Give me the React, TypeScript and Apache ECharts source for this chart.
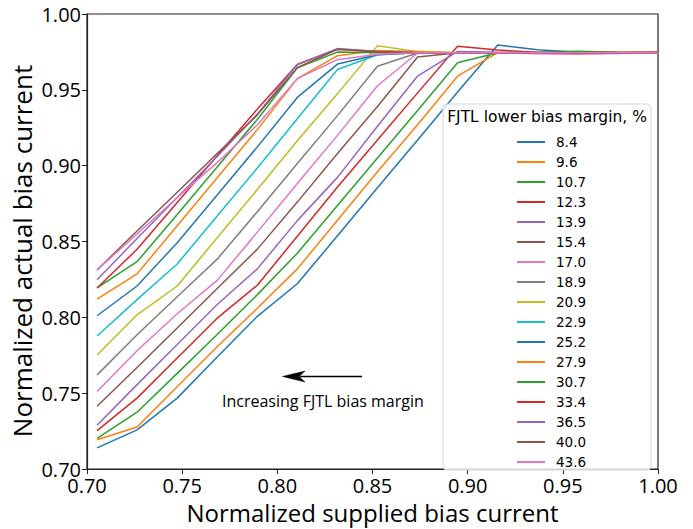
import React, { useEffect, useRef } from "react";
import * as echarts from "echarts";

// Normalized supplied bias current (x samples)
const xValues = [0.7053, 0.7263, 0.7474, 0.7684, 0.7895, 0.8105, 0.8316, 0.8526, 0.8737, 0.8947, 0.9158, 0.9368, 0.9579, 0.9789, 1.0];

// FJTL lower bias margin, %
const margins = ["8.4", "9.6", "10.7", "12.3", "13.9", "15.4", "17.0", "18.9", "20.9", "22.9", "25.2", "27.9", "30.7", "33.4", "36.5", "40.0", "43.6"];

const m084 = [0.714, 0.7259, 0.7468, 0.7739, 0.8007, 0.8222, 0.8538, 0.8854, 0.917, 0.9486, 0.9796, 0.9765, 0.9748, 0.9745, 0.9745];
const m096 = [0.7194, 0.7278, 0.7543, 0.7807, 0.806, 0.832, 0.864, 0.896, 0.927, 0.959, 0.9745, 0.9745, 0.9748, 0.9745, 0.9745];
const m107 = [0.7202, 0.7375, 0.7631, 0.7887, 0.815, 0.8423, 0.8737, 0.9051, 0.9364, 0.9678, 0.9745, 0.9748, 0.9755, 0.9748, 0.9745];
const m123 = [0.7254, 0.7468, 0.7732, 0.7995, 0.8212, 0.8535, 0.886, 0.917, 0.948, 0.9787, 0.9762, 0.9748, 0.9745, 0.9748, 0.975];
const m139 = [0.7289, 0.7557, 0.7821, 0.8085, 0.832, 0.8638, 0.8923, 0.926, 0.9591, 0.9753, 0.9748, 0.9745, 0.9745, 0.9745, 0.9745];
const m154 = [0.7414, 0.767, 0.793, 0.819, 0.845, 0.876, 0.908, 0.939, 0.9717, 0.9745, 0.9745, 0.9745, 0.9745, 0.9745, 0.9745];
const m170 = [0.7511, 0.778, 0.8024, 0.8244, 0.8562, 0.8882, 0.92, 0.9527, 0.9743, 0.9745, 0.9745, 0.9738, 0.9735, 0.974, 0.9745];
const m189 = [0.7621, 0.7886, 0.8136, 0.8384, 0.8697, 0.9014, 0.933, 0.9656, 0.9743, 0.9745, 0.9745, 0.9745, 0.9745, 0.9745, 0.9745];
const m209 = [0.7752, 0.8017, 0.8207, 0.8525, 0.8843, 0.9164, 0.9475, 0.979, 0.9752, 0.9745, 0.9745, 0.9745, 0.9745, 0.9745, 0.9745];
const m229 = [0.7877, 0.8117, 0.8352, 0.8669, 0.8985, 0.931, 0.9634, 0.9731, 0.9745, 0.9745, 0.9745, 0.9745, 0.9745, 0.9745, 0.9745];
const m252 = [0.8011, 0.8207, 0.8492, 0.8807, 0.9124, 0.945, 0.967, 0.9731, 0.9745, 0.9745, 0.9745, 0.9745, 0.9745, 0.9745, 0.9745];
const m279 = [0.8121, 0.8287, 0.8604, 0.8921, 0.9238, 0.9574, 0.9725, 0.976, 0.9752, 0.9745, 0.9745, 0.9745, 0.9745, 0.9745, 0.9745];
const m307 = [0.8194, 0.8367, 0.8679, 0.8992, 0.9305, 0.9646, 0.9749, 0.9745, 0.9745, 0.9745, 0.9745, 0.9745, 0.9745, 0.9745, 0.9745];
const m334 = [0.8194, 0.8449, 0.8757, 0.9065, 0.9373, 0.9667, 0.9768, 0.975, 0.9745, 0.9745, 0.9745, 0.9745, 0.9745, 0.9745, 0.9745];
const m365 = [0.8248, 0.852, 0.879, 0.906, 0.934, 0.9667, 0.9772, 0.9752, 0.9745, 0.9745, 0.9745, 0.9745, 0.9745, 0.9745, 0.9745];
const m400 = [0.8313, 0.857, 0.8825, 0.908, 0.9335, 0.9646, 0.9768, 0.9752, 0.9745, 0.9745, 0.9745, 0.9745, 0.9745, 0.9745, 0.9745];
const m436 = [0.8313, 0.855, 0.879, 0.902, 0.927, 0.9574, 0.9699, 0.9735, 0.9745, 0.9745, 0.9745, 0.9745, 0.9745, 0.9745, 0.9745];

const seriesValues = [m084, m096, m107, m123, m139, m154, m170, m189, m209, m229, m252, m279, m307, m334, m365, m400, m436];

const tab10 = ["#1f77b4", "#ff7f0e", "#2ca02c", "#d62728", "#9467bd", "#8c564b", "#e377c2", "#7f7f7f", "#bcbd22", "#17becf"];

const xAxisTitle = "Normalized supplied bias current";
const yAxisTitle = "Normalized actual bias current";
const legendTitle = "FJTL lower bias margin, %";
const annotationText = "Increasing FJTL bias margin";

export default function App() {
  const ref = useRef<HTMLDivElement>(null);

  useEffect(() => {
    if (!ref.current) return;
    const chart = echarts.init(ref.current, null, { renderer: "svg" });
    const axisColor = "#222";
    const tickFont = { fontFamily: "Open Sans", fontSize: 20, color: "#000", lineHeight: 20 };
    const option: any = {
      animation: false,
      backgroundColor: "#fff",
      color: tab10,
      grid: {
        left: 87,
        right: 35,
        top: 14,
        bottom: 52,
        show: true,
        borderColor: axisColor,
        borderWidth: 1.2,
        backgroundColor: "transparent",
      },
      xAxis: {
        type: "value",
        min: 0.7,
        max: 1.0,
        interval: 0.05,
        name: xAxisTitle,
        nameLocation: "middle",
        nameGap: 28,
        nameTextStyle: { fontFamily: "Open Sans", fontSize: 24, color: "#000", lineHeight: 24 },
        axisLine: { show: true, onZero: false, lineStyle: { color: axisColor, width: 1.2 } },
        axisTick: { show: true, length: 5, lineStyle: { color: axisColor } },
        axisLabel: { ...tickFont, margin: 6, formatter: (v: number) => v.toFixed(2) },
        splitLine: { show: false },
      },
      yAxis: {
        type: "value",
        min: 0.7,
        max: 1.0,
        interval: 0.05,
        axisLine: { show: true, onZero: false, lineStyle: { color: axisColor, width: 1.2 } },
        axisTick: { show: true, length: 5, lineStyle: { color: axisColor } },
        axisLabel: { ...tickFont, margin: 6, formatter: (v: number) => v.toFixed(2) },
        splitLine: { show: false },
      },
      legend: {
        orient: "vertical",
        left: 512,
        top: 127,
        itemWidth: 28,
        itemHeight: 2,
        itemGap: 0,
        icon: "rect",
        z: 6,
        data: margins,
        textStyle: {
          fontFamily: "DejaVu Sans",
          fontSize: 13.5,
          color: "#000",
          lineHeight: 20,
          padding: [0, 0, 0, 6],
        },
      },
      graphic: [
        {
          type: "text",
          z: 7,
          x: 22,
          y: 251,
          rotation: Math.PI / 2,
          style: {
            text: yAxisTitle,
            fontFamily: "Open Sans",
            fontSize: 26,
            fill: "#000",
            align: "center",
            verticalAlign: "middle",
          },
        },
        {
          type: "rect",
          z: 5,
          shape: { x: 443, y: 104, width: 208, height: 366, r: 4 },
          style: { fill: "rgba(255,255,255,0.8)", stroke: "#d6d6d6", lineWidth: 1 },
        },
        {
          type: "text",
          z: 7,
          x: 547,
          y: 117,
          style: {
            text: legendTitle,
            fontFamily: "DejaVu Sans",
            fontSize: 15.5,
            fill: "#000",
            align: "center",
            verticalAlign: "middle",
          },
        },
        {
          type: "line",
          z: 7,
          shape: { x1: 362, y1: 376.5, x2: 300, y2: 376.5 },
          style: { stroke: "#000", lineWidth: 1.5 },
        },
        {
          type: "polygon",
          z: 7,
          shape: { points: [[282.5, 376.5], [305, 371], [299, 376.5], [305, 382]] },
          style: { fill: "#000", stroke: "#000", lineWidth: 0.5 },
        },
        {
          type: "text",
          z: 7,
          x: 222,
          y: 401,
          style: {
            text: annotationText,
            fontFamily: "Open Sans",
            fontSize: 16,
            fill: "#000",
            align: "left",
            verticalAlign: "middle",
          },
        },
      ],
      series: margins.map((m, i) => ({
        name: m,
        type: "line",
        data: xValues.map((x, j) => [x, seriesValues[i][j]]),
        symbol: "none",
        z: 2,
        lineStyle: { width: 1.5, color: tab10[i % 10] },
        itemStyle: { color: tab10[i % 10] },
        emphasis: { disabled: true },
      })),
    };
    chart.setOption(option);
    return () => chart.dispose();
  }, []);

  return (
    <div
      ref={ref}
      style={{ position: "absolute", left: 0, top: 0, width: 693, height: 529 }}
    />
  );
}
